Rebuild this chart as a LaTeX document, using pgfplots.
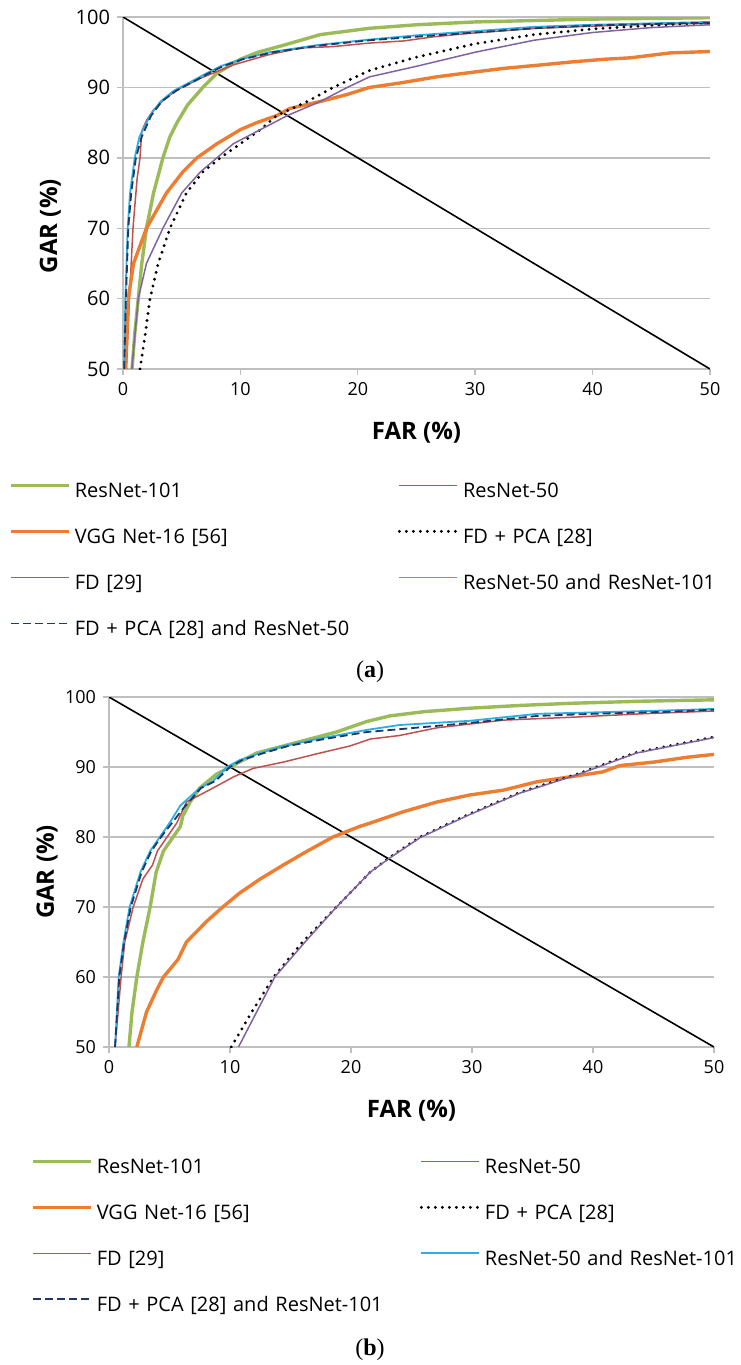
\documentclass[border=0pt]{standalone}
\usepackage{fontspec}
\setmainfont{Open Sans}
\newfontfamily\capfont{Liberation Serif}
\usepackage{pgfplots}
\pgfplotsset{compat=1.18}

\definecolor{cGreen}{HTML}{9BBB59}
\definecolor{cRed}{HTML}{C0504D}
\definecolor{cOrange}{HTML}{ED7D31}
\definecolor{cPurple}{HTML}{8064A2}
\definecolor{cCyan}{HTML}{2AAEE4}
\definecolor{cNavy}{HTML}{1F3864}
\definecolor{cGrid}{HTML}{BFBFBF}

\pgfplotsset{
  rocstyle/.style={
    scale only axis,
    xmin=0, xmax=50, ymin=50, ymax=100,
    xtick={0,10,...,50}, ytick={50,60,...,100},
    axis x line*=bottom, axis y line*=left,
    axis line style={cGrid, line width=0.7pt},
    tick style={cGrid, line width=0.7pt},
    major tick length=3pt,
    tick align=outside,
    ymajorgrids, grid style={cGrid, line width=0.7pt},
    /pgf/number format/assume math mode=true,
    tick label style={font=\fontsize{9}{10}\selectfont},
    label style={font=\bfseries\fontsize{12}{14}\selectfont},
    legend columns=2,
    legend cell align=left,
    legend style={draw=none, fill=none, inner sep=0pt, anchor=north west,
      font=\fontsize{10}{12}\selectfont,
      nodes={inner sep=0pt, text width=161.5pt, align=left,
             text height=7.5pt, text depth=2.5pt},
      row sep=13pt,
      /tikz/every odd column/.append style={column sep=2pt}},
    legend image code/.code={\draw[##1] (0pt,3.5pt) -- (29pt,3.5pt);},
  },
  sGreen/.style={cGreen, line width=1.7pt},
  sRed/.style={cRed, line width=0.75pt},
  sOrange/.style={cOrange, line width=1.7pt},
  sDot/.style={black, line width=1.6pt, line cap=round, dash pattern=on 0pt off 3.5pt},
  sPurple/.style={cPurple, line width=0.75pt},
  sCyan/.style={cCyan, line width=0.9pt},
  sDash/.style={cNavy, line width=0.9pt, dash pattern=on 4pt off 2pt},
}

\begin{document}
\begin{tikzpicture}
\useasboundingbox (0,0) rectangle (370pt,-682.5pt);

% ---------- (a) ----------
\begin{axis}[rocstyle, at={(61.5pt,-184.5pt)}, anchor=south west,
  width=293.5pt, height=176pt,
  yticklabel style={font=\fontsize{10}{11}\selectfont},
  xlabel={FAR (\%)}, ylabel={GAR (\%)},
  xlabel style={at={(axis description cs:0.5,-0.182)}, anchor=center},
  ylabel style={at={(axis description cs:-0.124,0.406)}, anchor=center},
  legend style={at={(axis description cs:-0.1942,-0.321)}},
]
\addplot[black, line width=0.8pt, forget plot] coordinates {(0,100) (50,50)};
\addplot[sGreen] coordinates {
(0.77,50) (1.0,55) (1.3,60) (1.6,65) (2.0,70) (2.6,75) (3.4,80) (4.0,83) (4.6,85)
(5.5,87.5) (6.8,90) (8.0,92) (10,94) (11.5,95) (13.7,96) (16.8,97.5) (21,98.4)
(25,98.9) (30,99.3) (35,99.5) (40,99.7) (45,99.8) (50,99.9)};
\addlegendentry{ResNet-101}
\addplot[sRed] coordinates {
(0.3,50) (0.55,60) (0.85,70) (1.2,77) (1.45,80) (1.6,83.8) (2.0,85.3) (2.6,86.8)
(3.7,88.6) (4.9,89.9) (6.6,91.3) (9.4,93.2) (12.3,94.6) (15.1,95.6) (17.9,95.8)
(21,96.3) (23.9,96.6) (26.5,97.2) (29.6,97.7) (35.3,98.4) (40,98.7) (45,99.0) (50,99.1)};
\addlegendentry{ResNet-50}
\addplot[sOrange] coordinates {
(0.2,50) (0.45,60) (0.9,65) (2.0,70) (3.7,75) (5.1,78) (6.3,80) (8.0,82) (10,84)
(11.4,85) (13.1,86) (14.2,87) (16.8,88) (19.1,89) (21,90) (23.5,90.6) (26.7,91.5)
(30,92.2) (32.4,92.7) (35,93.1) (38.1,93.6) (41,94.0) (43.2,94.2) (46.6,94.9) (50,95.1)};
\addlegendentry{VGG Net-16 [56]}
\addplot[sDot] coordinates {
(1.45,50) (1.9,55) (2.3,60) (3.0,65) (4.0,70) (5.4,75) (6.8,78) (8.3,80) (10,82)
(11.7,84) (13.1,86) (15.7,88) (17.9,90) (21,92.4) (25,94.3) (30,96.2) (35,97.5)
(40,98.3) (45,98.8) (50,99.2)};
\addlegendentry{FD + PCA [28]}
\addplot[sPurple] coordinates {
(0.75,50) (1.3,60) (2.0,65) (3.4,70) (5.0,75) (6.6,78) (8.0,80) (9.4,82) (11.7,84)
(14.0,86) (16.8,88) (19.1,90) (21,91.5) (25,93.0) (30,95.0) (35,96.7) (40,97.8)
(45,98.5) (50,98.9)};
\addlegendentry{FD [29]}
\addplot[sCyan] coordinates {
(0.1,50) (0.2,60) (0.4,70) (0.6,75) (1.0,80) (1.4,83) (2.3,86) (3.2,88) (4.3,89.5)
(6.0,91) (7.1,92) (8.3,93) (10,94) (12.5,95) (16.5,96) (21,96.8) (25,97.4) (30,98.0)
(35,98.6) (40,98.9) (45,99.1) (50,99.3)};
\addlegendentry{ResNet-50 and ResNet-101}
\addplot[sDash] coordinates {
(0.1,50) (0.25,60) (0.45,70) (0.7,75) (1.1,80) (1.6,83) (2.4,86) (3.3,88) (4.5,89.5)
(6.2,91) (7.3,92) (8.5,93) (10.2,94) (12.8,95) (17,96) (21,96.7) (25,97.2) (30,97.8)
(35,98.4) (40,98.8) (45,99.0) (50,99.2)};
\addlegendentry{FD + PCA [28] and ResNet-50}
\end{axis}
\node[font=\capfont\fontsize{12}{13}\selectfont] at (185pt,-336pt) {(\textbf{a})};

% ---------- (b) ----------
\begin{axis}[rocstyle, at={(54.5pt,-523.5pt)}, anchor=south west,
  width=302.5pt, height=175pt,
  xlabel={FAR (\%)}, ylabel={GAR (\%)},
  xlabel style={at={(axis description cs:0.5,-0.183)}, anchor=center},
  ylabel style={at={(axis description cs:-0.1025,0.5)}, anchor=center},
  legend style={at={(axis description cs:-0.129,-0.317)}},
]
\addplot[black, line width=0.8pt, forget plot] coordinates {(0,100) (50,50)};
\addplot[sGreen] coordinates {
(1.65,50) (1.9,55) (2.3,60) (2.8,65) (3.4,70) (3.9,75) (4.5,78) (5.3,80) (5.9,81.5)
(6.1,83) (6.7,85) (7.5,87) (8.9,89) (10,90) (12.2,92) (14.4,93) (16.6,94) (18.8,95)
(21.3,96.5) (23.2,97.3) (26,97.9) (29.8,98.4) (34,98.8) (38.1,99.1) (44,99.4) (50,99.6)};
\addlegendentry{ResNet-101}
\addplot[sRed] coordinates {
(0.5,50) (1.0,60) (1.3,65) (2.0,70) (2.8,74) (3.6,76) (4.0,78) (4.8,80) (5.6,82)
(6.4,85) (8.6,87) (10.3,88.6) (11.9,89.8) (14.4,90.7) (17.2,91.9) (19.9,93) (21.6,94)
(24,94.5) (27.1,95.6) (32.6,96.7) (38.1,97.1) (44,97.6) (50,98.0)};
\addlegendentry{ResNet-50}
\addplot[sOrange] coordinates {
(2.3,50) (3.1,55) (3.9,58) (4.5,60) (5.7,62.5) (6.4,65) (8.1,68) (9.4,70) (10.8,72)
(12.5,74) (14.4,76) (16.4,78) (18.5,80) (20.7,81.5) (21.6,82) (24.3,83.6) (27.1,85)
(29.8,86) (32.6,86.7) (35.4,87.9) (38.1,88.6) (40.8,89.3) (42.2,90.2) (45,90.7)
(47.8,91.4) (50,91.8)};
\addlegendentry{VGG Net-16 [56]}
\addplot[sDot] coordinates {
(10.1,50) (11.8,55) (13.6,60) (16,65) (18.8,70) (21.6,75) (23.2,77.1) (25.7,80)
(29.8,83.3) (34,86.4) (38.7,89) (43.6,92.1) (50,94.3)};
\addlegendentry{FD + PCA [28]}
\addplot[sPurple] coordinates {
(10.7,50) (12.2,55) (13.7,60) (16.2,65) (18.8,70) (21.6,75) (23.2,77.0) (25.7,79.9)
(29.8,83.2) (34,86.3) (38.7,88.9) (43.6,92.0) (50,94.2)};
\addlegendentry{FD [29]}
\addplot[sCyan] coordinates {
(0.5,50) (0.8,60) (1.2,65) (1.7,70) (2.6,75) (3.4,78) (4.2,80) (5.0,82) (5.9,84.5)
(7.5,87) (8.6,88) (9.75,90) (10.8,91) (12.5,92) (14.4,93) (17.2,94) (21.3,95.3)
(24,96.0) (29.8,96.6) (35.4,97.6) (40,97.8) (46.4,98.1) (50,98.3)};
\addlegendentry{ResNet-50 and ResNet-101}
\addplot[sDash] coordinates {
(0.5,50) (0.85,60) (1.25,65) (1.8,70) (2.7,75) (3.5,78) (4.3,80) (5.2,82) (6.1,84)
(7.6,87) (8.8,88) (10,90) (11,91) (12.8,92) (14.8,93) (17.8,94) (21.3,95.0) (24,95.4)
(29.8,96.3) (35.4,97.3) (40,97.6) (46.4,97.9) (50,98.2)};
\addlegendentry{FD + PCA [28] and ResNet-101}
\end{axis}
\node[font=\capfont\fontsize{12}{13}\selectfont] at (185pt,-675pt) {(\textbf{b})};
\end{tikzpicture}
\end{document}
